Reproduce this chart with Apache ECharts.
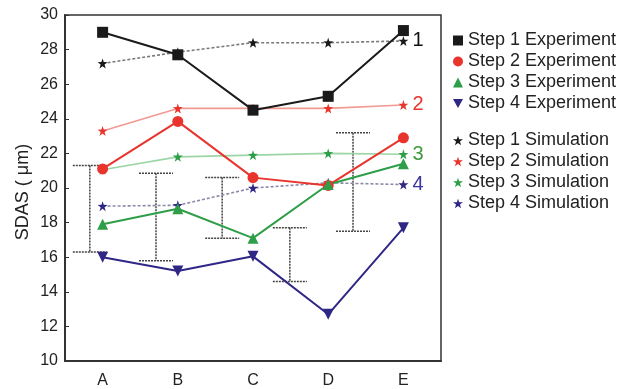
<!DOCTYPE html>
<html><head><meta charset="utf-8">
<script src="https://cdn.jsdelivr.net/npm/echarts@6/dist/echarts.min.js"></script>
<style>html,body{margin:0;padding:0;background:#fff}#c{width:637px;height:389px}</style>
</head><body><div id="c"></div>
<script>
const categories = ['A', 'B', 'C', 'D', 'E'];
const yTicks = { min: 10, max: 30, interval: 2 };
const step1Exp = [29.0, 27.7, 24.5, 25.3, 29.1];
const step2Exp = [21.1, 23.85, 20.6, 20.15, 22.9];
const step3Exp = [17.9, 18.8, 17.1, 20.2, 21.4];
const step4Exp = [16.0, 15.2, 16.05, 12.7, 17.7];
const step1Sim = [27.2, 27.85, 28.4, 28.4, 28.5];
const step2Sim = [23.3, 24.6, 24.6, 24.6, 24.8];
const step3Sim = [21.05, 21.8, 21.9, 22.0, 21.95];
const step4Sim = [18.95, 19.0, 20.0, 20.3, 20.2];
const errX = [-0.17, 0.71, 1.59, 2.49, 3.33];
const errLow = [16.3, 15.8, 17.1, 14.6, 17.5];
const errHigh = [21.3, 20.85, 20.6, 17.7, 23.2];
const endLabels = ['1', '2', '3', '4'];

const STAR = 'path://M5,0L6.18,3.53L10,3.6L6.95,5.9L8.07,9.6L5,7.4L1.93,9.6L3.05,5.9L0,3.6L3.82,3.53Z';
const DOWN = 'path://M0,0L10,0L5,9Z';
const C = { k: '#1a1a1a', r: '#e8342c', g: '#2e9e48', b: '#2f2785' };

function exp(name, data, color, symbol, size) {
  return { name, type: 'line', data, symbol, symbolSize: size, z: 5,
    itemStyle: { color }, lineStyle: { color, width: 2 } };
}
function sim(name, data, color, lineColor, lineType, label, labelColor) {
  return { name, type: 'line', data, symbol: STAR, symbolSize: 10, z: 4,
    itemStyle: { color }, lineStyle: { color: lineColor, width: 1.6, type: lineType },
    endLabel: { show: true, formatter: label, color: labelColor, fontSize: 20,
      fontFamily: 'Liberation Sans', distance: 9 } };
}
const errData = errX.map((x, i) => [x, errLow[i], errHigh[i]]);

const chart = echarts.init(document.getElementById('c'));
chart.setOption({
  animation: false,
  textStyle: { fontFamily: 'Liberation Sans' },
  grid: { left: 65, right: 196, top: 15, bottom: 28, show: true, borderColor: '#333', borderWidth: 1.5 },
  xAxis: [
    { type: 'category', data: categories, boundaryGap: true,
      axisLine: { onZero: false, lineStyle: { color: '#333', width: 2 } },
      axisTick: { inside: true, alignWithLabel: true, length: 4, lineStyle: { color: '#333' } },
      axisLabel: { fontSize: 16, color: '#222', margin: 12 } },
    { type: 'value', min: -0.5, max: 4.5, show: false, axisLine: { onZero: false } }
  ],
  yAxis: { type: 'value', min: yTicks.min, max: yTicks.max, interval: yTicks.interval,
    axisLine: { show: true, onZero: false, lineStyle: { color: '#333', width: 2 } },
    axisTick: { show: true, inside: true, length: 4, lineStyle: { color: '#333' } },
    splitLine: { show: false },
    axisLabel: { fontSize: 16, color: '#222', margin: 7 } },
  legend: [
    { orient: 'vertical', left: 448, top: 25, itemGap: 0, itemWidth: 10, itemHeight: 10,
      textStyle: { fontSize: 18, color: '#222', lineHeight: 21 },
      data: [
        { name: 'Step 1 Experiment', icon: 'rect' },
        { name: 'Step 2 Experiment', icon: 'circle' },
        { name: 'Step 3 Experiment', icon: 'triangle' },
        { name: 'Step 4 Experiment', icon: DOWN }] },
    { orient: 'vertical', left: 448, top: 125, itemGap: 0, itemWidth: 10, itemHeight: 10,
      textStyle: { fontSize: 18, color: '#222', lineHeight: 21 },
      data: [
        { name: 'Step 1 Simulation', icon: STAR },
        { name: 'Step 2 Simulation', icon: STAR },
        { name: 'Step 3 Simulation', icon: STAR },
        { name: 'Step 4 Simulation', icon: STAR }] }
  ],
  graphic: [{ type: 'text', x: 23, y: 192, rotation: Math.PI / 2,
    style: { text: 'SDAS ( μm)', fontSize: 18, fill: '#222', fontFamily: 'Liberation Sans',
      align: 'center', verticalAlign: 'middle' } }],
  series: [
    { type: 'custom', xAxisIndex: 1, data: errData, z: 2,
      renderItem(params, api) {
        const top = api.coord([api.value(0), api.value(2)]);
        const bot = api.coord([api.value(0), api.value(1)]);
        const hw = 17;
        const st = { stroke: '#444', lineWidth: 1.5, lineDash: [2, 1] };
        return { type: 'group', children: [
          { type: 'line', shape: { x1: top[0], y1: top[1], x2: bot[0], y2: bot[1] }, style: st },
          { type: 'line', shape: { x1: top[0] - hw, y1: top[1], x2: top[0] + hw, y2: top[1] }, style: st },
          { type: 'line', shape: { x1: bot[0] - hw, y1: bot[1], x2: bot[0] + hw, y2: bot[1] }, style: st }
        ] };
      } },
    sim('Step 1 Simulation', step1Sim, C.k, '#777', [3, 2], endLabels[0], '#111'),
    sim('Step 2 Simulation', step2Sim, C.r, '#f29a92', 'solid', endLabels[1], C.r),
    sim('Step 3 Simulation', step3Sim, C.g, '#9dd6a6', 'solid', endLabels[2], '#3c9a3c'),
    sim('Step 4 Simulation', step4Sim, C.b, '#8a8aa8', [3, 2], endLabels[3], '#3b35a0'),
    exp('Step 1 Experiment', step1Exp, C.k, 'rect', 11),
    exp('Step 2 Experiment', step2Exp, C.r, 'circle', 11),
    exp('Step 3 Experiment', step3Exp, C.g, 'triangle', 11),
    exp('Step 4 Experiment', step4Exp, C.b, DOWN, 11)
  ]
});
</script></body></html>
